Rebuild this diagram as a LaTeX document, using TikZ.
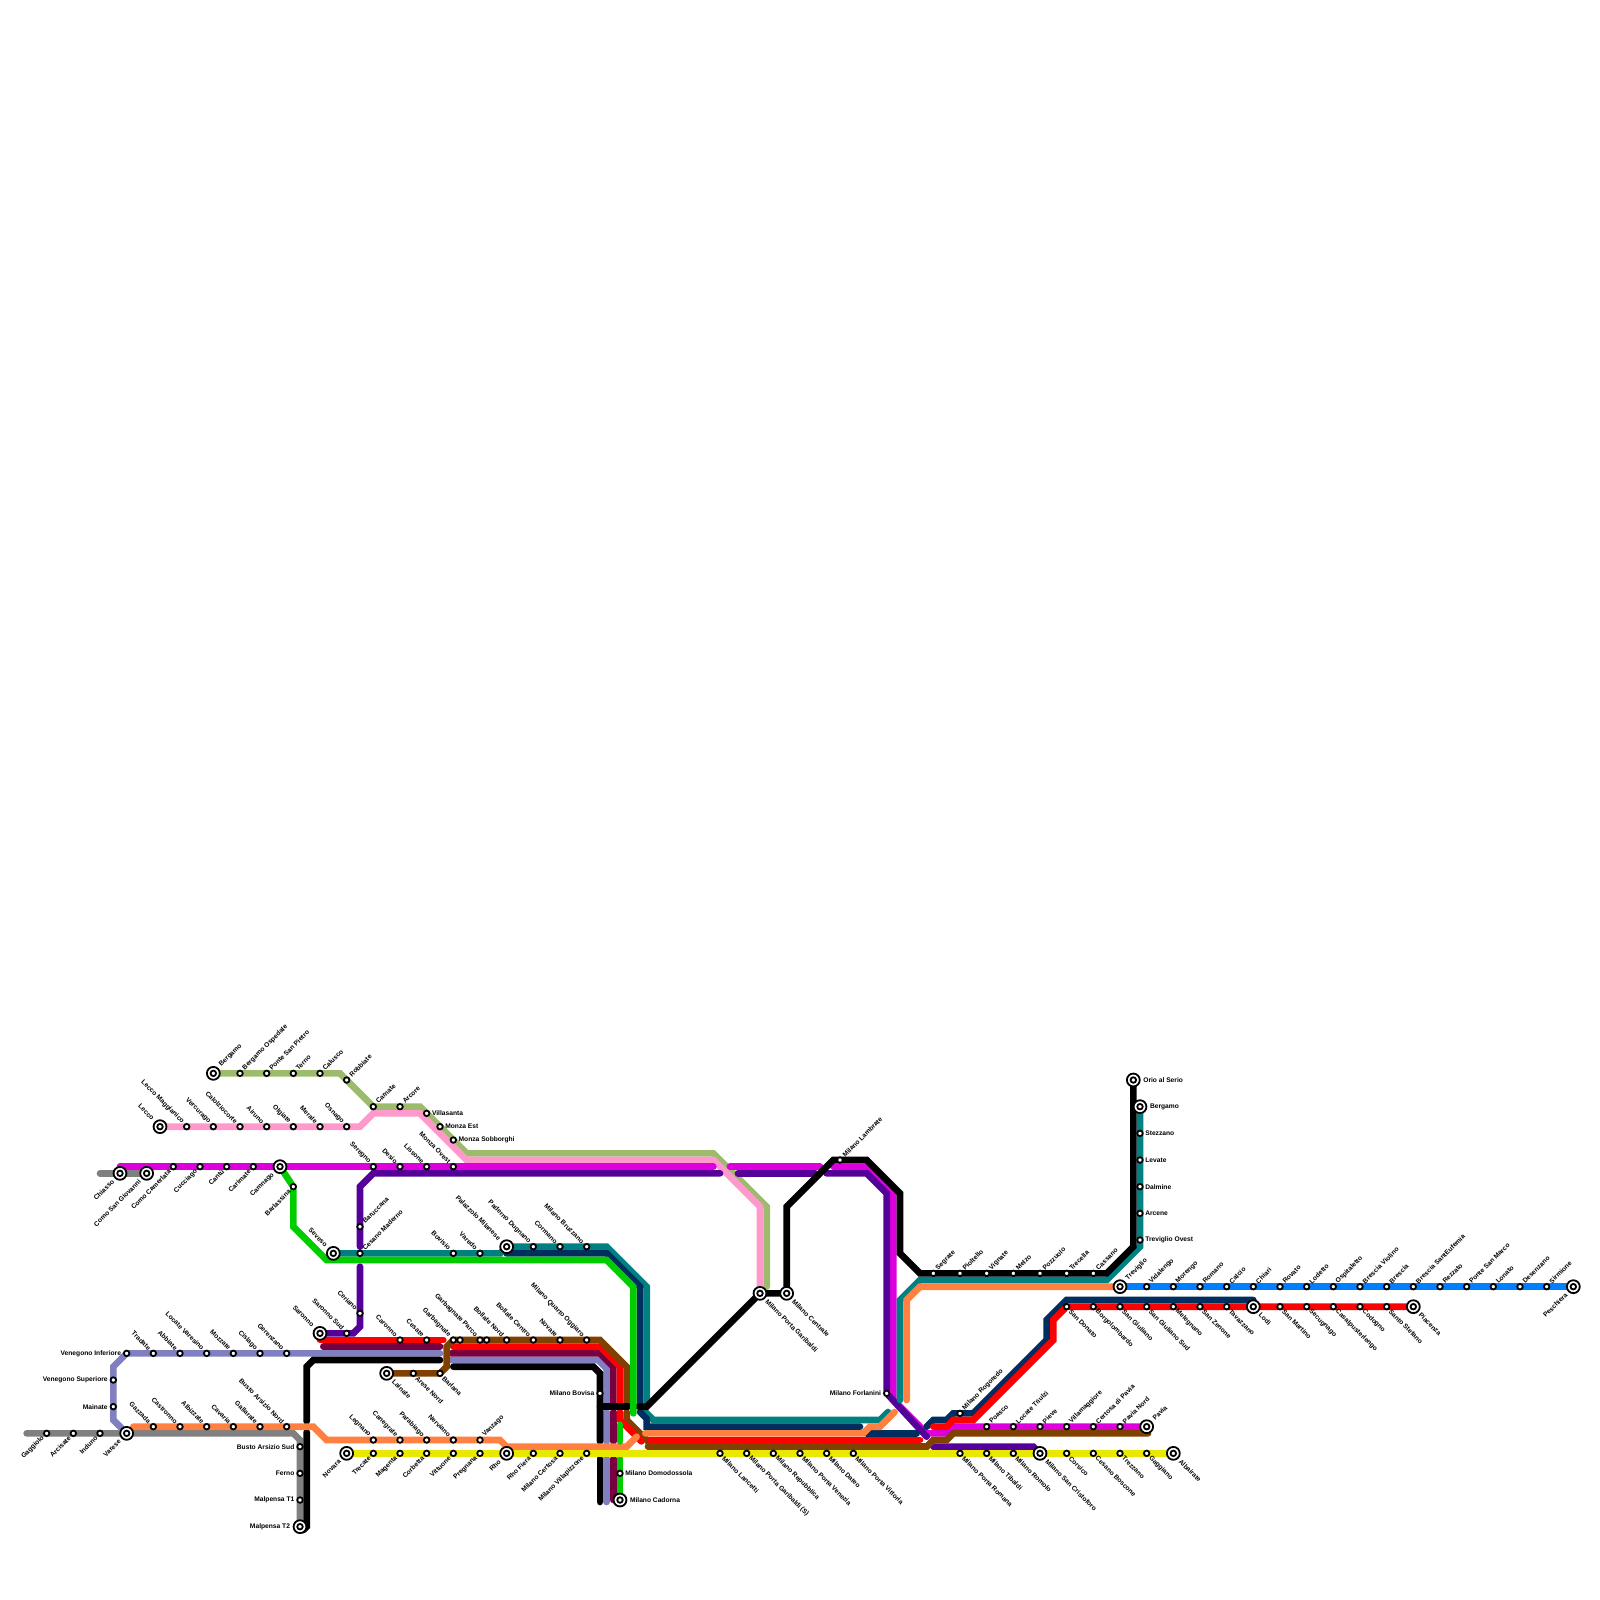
\documentclass[tikz,border=0pt]{standalone}
\usepackage{fontspec}
\setmainfont{Liberation Sans}
\usetikzlibrary{backgrounds}
\definecolor{cOlive}{HTML}{9CBB6C}
\definecolor{cPink}{HTML}{FF99CC}
\definecolor{cMag}{HTML}{DD00DD}
\definecolor{cInd}{HTML}{550099}
\definecolor{cTeal}{HTML}{008080}
\definecolor{cNavy}{HTML}{002F5F}
\definecolor{cGreen}{HTML}{00CC00}
\definecolor{cRed}{HTML}{FF0000}
\definecolor{cWine}{HTML}{770040}
\definecolor{cPeri}{HTML}{8080C0}
\definecolor{cGrey}{HTML}{808080}
\definecolor{cOrange}{HTML}{FF8040}
\definecolor{cYellow}{HTML}{E8E800}
\definecolor{cBlue}{HTML}{0080FF}
\definecolor{cBrown}{HTML}{804000}
\tikzset{
  stn/.style={circle,draw=black,fill=white,line width=.27mm,inner sep=0pt,outer sep=0pt,minimum size=.83mm},
  ring/.style={circle,draw=black,fill=white,line width=.27mm,inner sep=0pt,outer sep=0pt,minimum size=1.93mm},
  lab/.style={inner sep=0pt,outer sep=0pt,text=black,font=\fontsize{2.845}{3.4}\selectfont\bfseries},
  labNE/.style={lab,shift={(.55,-.65)},rotate=45,anchor=west},
  labNW/.style={lab,shift={(-.55,-.65)},rotate=-45,anchor=east},
  labSW/.style={lab,shift={(-.55,.6)},rotate=45,anchor=east},
  labSE/.style={lab,shift={(.5,.6)},rotate=-45,anchor=west},
  labE/.style={lab,shift={(.8,0)},anchor=west},
  labW/.style={lab,shift={(-.85,0)},anchor=east},
  labxNE/.style={lab,shift={(1.05,-1.15)},rotate=45,anchor=west},
  labxNW/.style={lab,shift={(-1.05,-1.15)},rotate=-45,anchor=east},
  labxSW/.style={lab,shift={(-1.05,1.1)},rotate=45,anchor=east},
  labxSE/.style={lab,shift={(1.0,1.1)},rotate=-45,anchor=west},
  labxE/.style={lab,shift={(1.5,0)},anchor=west},
  labxW/.style={lab,shift={(-1.5,0)},anchor=east},
  ln/.style={line width=1mm,line cap=round,miter limit=4}
}
\newcommand{\St}[4]{\node[stn] (#2) at (#3) {}; \node[lab#1] (#2-t) at (#2) {#4};}
\newcommand{\Ic}[4]{\node[ring] (#2) at (#3) {}; \node[stn] (#2-c) at (#2) {}; \node[labx#1] (#2-t) at (#2) {#4};}
\begin{document}
\begin{tikzpicture}[x=.1cm,y=-.1cm]
\useasboundingbox (0,0) rectangle (240,240);
% --- north-east olive
\Ic{NE}{bga}{32,161}{Bergamo}
\St{NE}{bgo}{36,161}{Bergamo Ospedale}
\St{NE}{psp}{40,161}{Ponte San Pietro}
\St{NE}{ter}{44,161}{Terno}
\St{NE}{cal}{48,161}{Calusco}
\St{NE}{rob}{52,162}{Robbiate}
\St{NE}{car}{56,166}{Carnate}
\St{NE}{arc}{60,166}{Arcore}
\St{E}{vil}{64,167}{Villasanta}
\St{E}{mze}{66,169}{Monza Est}
\St{E}{mzs}{68,171}{Monza Sobborghi}
% --- pink
\Ic{NW}{lec}{24,169}{Lecco}
\St{NW}{lma}{28,169}{Lecco Maggianico}
\St{NW}{ver}{32,169}{Vercurago}
\St{NW}{clz}{36,169}{Calolziocorte}
\St{NW}{air}{40,169}{Airuno}
\St{NW}{olg}{44,169}{Olgiate}
\St{NW}{mer}{48,169}{Merate}
\St{NW}{osn}{52,169}{Osnago}
% --- magenta
\Ic{SW}{chi}{18,176}{Chiasso}
\Ic{SW}{csg}{22,176}{Como San Giovanni}
\St{SW}{cca}{26,175}{Como Camerlata}
\St{SW}{cuc}{30,175}{Cucciago}
\St{SW}{can}{34,175}{Cantù}
\St{SW}{crm}{38,175}{Carimate}
\Ic{SW}{cmn}{42,175}{Camnago}
\St{NW}{seg}{56,175}{Seregno}
\St{NW}{des}{60,175}{Desio}
\St{NW}{lis}{64,175}{Lissone}
\St{NW}{mzo}{68,175}{Monza Ovest}
\St{SW}{bar}{44,178}{Barlassina}
% --- teal north
\Ic{NW}{sev}{50,188}{Seveso}
\St{NE}{brc}{54,184}{Baruccana}
\St{NE}{ces}{54,188}{Cesano Maderno}
\St{NW}{bov}{68,188}{Bovisio}
\St{NW}{vrd}{72,188}{Varedo}
\Ic{NW}{pal}{76,187}{Palazzolo Milanese}
\St{NW}{pad}{80,187}{Paderno Dugnano}
\St{NW}{crn}{84,187}{Cormano}
\St{NW}{bru}{88,187}{Milano Bruzzano}
% --- saronno trunk
\Ic{NW}{sar}{48,200}{Saronno}
\St{NW}{ssd}{52,200}{Saronno Sud}
\St{NW}{cer}{54,197}{Ceriano}
\St{NW}{cro}{60,201}{Caronno}
\St{NW}{cst}{64,201}{Cesate}
\St{NW}{gar}{68,201}{Garbagnate}
\node[stn] (gx1) at (69,201) {};
\St{NW}{gap}{72,201}{Garbagnate Parco}
\node[stn] (gx2) at (73,201) {};
\St{NW}{bon}{76,201}{Bollate Nord}
\St{NW}{boc}{80,201}{Bollate Centro}
\St{NW}{nov}{84,201}{Novate}
\St{NW}{mqo}{88,201}{Milano Quarto Oggiaro}
\Ic{SE}{lai}{58,206}{Lainate}
\St{SE}{are}{62,206}{Arese Nord}
\St{SE}{brl}{66,206}{Barlana}
% --- periwinkle
\St{W}{vin}{19,203}{Venegono Inferiore}
\St{W}{vsu}{17,207}{Venegono Superiore}
\St{W}{mai}{17,211}{Mainate}
\St{NW}{tra}{23,203}{Tradate}
\St{NW}{abb}{27,203}{Abbiate}
\St{NW}{lvr}{31,203}{Locate Varesino}
\St{NW}{moz}{35,203}{Mozzate}
\St{NW}{cis}{39,203}{Cislago}
\St{NW}{ger}{43,203}{Gerenzano}
% --- orange west
\St{NW}{gaz}{23,214}{Gazzada}
\St{NW}{cas}{27,214}{Castronno}
\St{NW}{alb}{31,214}{Albizzate}
\St{NW}{cav}{35,214}{Cavaria}
\St{NW}{gal}{39,214}{Gallarate}
\St{NW}{ban}{43,214}{Busto Arsizio Nord}
\St{NW}{leg}{56,216}{Legnano}
\St{NW}{cng}{60,216}{Canegrate}
\St{NW}{par}{64,216}{Parabiago}
\St{NW}{ner}{68,216}{Nerviano}
\St{NE}{van}{72,216}{Vanzago}
% --- grey
\St{SW}{gag}{7,215}{Gaggiolo}
\St{SW}{ars}{11,215}{Arcisate}
\St{SW}{ind}{15,215}{Induno}
\Ic{SW}{vae}{19,215}{Varese}
\St{W}{bas}{45,217}{Busto Arsizio Sud}
\St{W}{fer}{45,221}{Ferno}
\St{W}{mt1}{45,225}{Malpensa T1}
\Ic{W}{mt2}{45,229}{Malpensa T2}
% --- yellow
\Ic{SW}{nva}{52,218}{Novara}
\St{SW}{tre}{56,218}{Trecate}
\St{SW}{mag}{60,218}{Magenta}
\St{SW}{cor}{64,218}{Corbetta}
\St{SW}{vit}{68,218}{Vittuone}
\St{SW}{pre}{72,218}{Pregnana}
\Ic{SW}{rho}{76,218}{Rho}
\St{SW}{rhf}{80,218}{Rho Fiera}
\St{SW}{cto}{84,218}{Milano Certosa}
\St{SW}{vpz}{88,218}{Milano Villapizzone}
\St{SE}{lan}{108,218}{Milano Lancetti}
\St{SE}{pgs}{112,218}{Milano Porta Garibaldi (S)}
\St{SE}{rep}{116,218}{Milano Repubblica}
\St{SE}{pve}{120,218}{Milano Porta Venezia}
\St{SE}{dat}{124,218}{Milano Dateo}
\St{SE}{pvi}{128,218}{Milano Porta Vittoria}
\St{SE}{pro}{144,218}{Milano Porta Romana}
\St{SE}{tib}{148,218}{Milano Tibaldi}
\St{SE}{rom}{152,218}{Milano Romolo}
\Ic{SE}{scr}{156,218}{Milano San Cristoforo}
\St{SE}{crs}{160,218}{Corsico}
\St{SE}{cbo}{164,218}{Cesano Boscone}
\St{SE}{trz}{168,218}{Trezzano}
\St{SE}{gnn}{172,218}{Gaggiano}
\Ic{SE}{alr}{176,218}{Albairate}
% --- central Milan
\St{W}{bvs}{90,209}{Milano Bovisa}
\St{E}{dom}{93,221}{Milano Domodossola}
\Ic{E}{cad}{93,225}{Milano Cadorna}
\Ic{SE}{pgb}{114,194}{Milano Porta Garibaldi}
\Ic{SE}{cen}{118,194}{Milano Centrale}
\St{NE}{lam}{126,174}{Milano Lambrate}
\St{W}{frl}{133,209}{Milano Forlanini}
\St{NE}{rog}{144,212}{Milano Rogoredo}
% --- pavia
\St{NE}{poa}{148,214}{Poasco}
\St{NE}{ltr}{152,214}{Locate Triulzi}
\St{NE}{pie}{156,214}{Pieve}
\St{NE}{vmg}{160,214}{Villamaggiore}
\St{NE}{cpv}{164,214}{Certosa di Pavia}
\St{NE}{pvn}{168,214}{Pavia Nord}
\Ic{NE}{pav}{172,214}{Pavia}
% --- east
\St{NE}{sgr}{140,191}{Segrate}
\St{NE}{pio}{144,191}{Pioltello}
\St{NE}{vig}{148,191}{Vignate}
\St{NE}{mel}{152,191}{Melzo}
\St{NE}{poz}{156,191}{Pozzuolo}
\St{NE}{trc}{160,191}{Trecella}
\St{NE}{csn}{164,191}{Cassano}
\Ic{NE}{trv}{168,193}{Treviglio}
\Ic{E}{ori}{170,162}{Orio al Serio}
\Ic{E}{bge}{171,166}{Bergamo}
\St{E}{stz}{171,170}{Stezzano}
\St{E}{lev}{171,174}{Levate}
\St{E}{dal}{171,178}{Dalmine}
\St{E}{arn}{171,182}{Arcene}
\St{E}{tro}{171,186}{Treviglio Ovest}
% --- blue
\St{NE}{vid}{172,193}{Vidalengo}
\St{NE}{mor}{176,193}{Morengo}
\St{NE}{rmn}{180,193}{Romano}
\St{NE}{clc}{184,193}{Calcio}
\St{NE}{chr}{188,193}{Chiari}
\St{NE}{rov}{192,193}{Rovato}
\St{NE}{lod}{196,193}{Lodetto}
\St{NE}{osp}{200,193}{Ospitaletto}
\St{NE}{bvi}{204,193}{Brescia Violino}
\St{NE}{bre}{208,193}{Brescia}
\St{NE}{bse}{212,193}{Brescia SantEufemia}
\St{NE}{rez}{216,193}{Rezzato}
\St{NE}{psm}{220,193}{Ponte San Marco}
\St{NE}{lon}{224,193}{Lonato}
\St{NE}{dsz}{228,193}{Desenzano}
\St{NE}{sir}{232,193}{Sirmione}
\Ic{SW}{pes}{236,193}{Peschiera}
% --- red south-east
\St{SE}{sdo}{160,196}{San Donato}
\St{SE}{bgl}{164,196}{Borgolombardo}
\St{SE}{sgi}{168,196}{San Giuliano}
\St{SE}{sgs}{172,196}{San Giuliano Sud}
\St{SE}{mlg}{176,196}{Melegnano}
\St{SE}{sze}{180,196}{San Zenone}
\St{SE}{tav}{184,196}{Tavazzano}
\Ic{SE}{ldi}{188,196}{Lodi}
\St{SE}{smr}{192,196}{San Martino}
\St{SE}{sec}{196,196}{Secugnago}
\St{SE}{cpl}{200,196}{Casalpusterlengo}
\St{SE}{cod}{204,196}{Codogno}
\St{SE}{sst}{208,196}{Santo Stefano}
\Ic{SE}{pia}{212,196}{Piacenza}
% --- free line ends
\foreach \n/\p in {%
 olE/{115,193},mgA/{107,175},mgB/{109.5,175},mgC/{123,175},mgD/{125,175},%
 inA/{54,187},inB/{108,176},inC/{110.7,176},inD/{122.3,176},inE/{124,176},inF/{139,215.5},inG/{140,217},inH/{54,190},%
 teA/{97,210.5},teB/{96.8,211.8},teC/{133.2,211.8},teD/{135,210},%
 naA/{96,210.5},naB/{96,211.8},naC/{129,214},naD/{130,215},naE/{137.5,215},naF/{139,214},naG/{188,195},%
 reA/{140,214},reB/{97.5,216},reC/{138,216},reD/{48,201},reE/{66.5,201},reF/{68,202},reG/{93,210.5},reH/{93,211.8},reI/{96.2,216.2},%
 wiA/{48.5,202},wiB/{66,202},wiC/{67.7,203},wiD/{92,210.5},wiE/{92,211.8},wiF/{92,216.2},wiG/{92,218.8},wiH/{92,225},%
 peA/{66,203},peB/{67.7,204},peC/{91,210.5},peD/{91,211.8},peE/{91,216.2},peF/{91,218.8},peG/{91,225.3},%
 blA/{46,213.2},blB/{66,204},blC/{68,205},blD/{90,216.2},blE/{90,218.8},blF/{90,225.3},blG/{90,211},blH/{94.2,211},blI/{95.8,211},blJ/{46,214.8},blK/{45.5,229.5},%
 grA/{4,215},grB/{15,176},orA/{20,214},orB/{95.5,215.5},orC/{96.8,215},orD/{134.2,211.8},orE/{136,210},%
 brA/{94,210.5},brB/{94,211.8},brC/{172.2,215},brD/{97.2,217},gnA/{95,212},gnB/{93,213.7},gnC/{93,216.2},gnD/{93,218.8}%
}{\coordinate (\n) at (\p);}
\begin{scope}[on background layer]
\draw[ln,cOlive] (bga) -- (51,161) -- (56,166) -- (63,166) -- (70,173) -- (107,173) -- (115,181) -- (olE);
\draw[ln,cPink] (lec) -- (54,169) -- (56,167) -- (63,167) -- (70,174) -- (107,174) -- (114,181) -- (pgb);
\draw[ln,cGrey] (grB) -- (csg);
\draw[ln,cGrey] (grA) -- (44,215) -- (45,216) -- (mt2);
\draw[ln,cMag] (chi.center) ++(0,-1) -- (mgA);
\draw[ln,cMag] (mgB) -- (mgC);
\draw[ln,cMag] (mgD) -- (130,175) -- (134,179) -- (134,210) -- (139,215) -- (142,215) -- (143,214) -- (pav);
\draw[ln,cInd] (inA) -- (54,178) -- (56,176) -- (inB);
\draw[ln,cInd] (inC) -- (inD);
\draw[ln,cInd] (inE) -- (130,176) -- (133,179) -- (frl) -- (inF);
\draw[ln,cInd] (inG) -- (155,217) -- (scr);
\draw[ln,cInd] (sar) -- (53,200) -- (54,199) -- (inH);
\draw[ln,cTeal] (sev) -- (75,188) -- (76,187) -- (91,187) -- (97,193) -- (teA);
\draw[ln,cNavy] (pal) ++(0,1) -- (91,188) -- (96,193) -- (naA);
\draw[ln,cTeal] (teB) -- (98,213) -- (132,213) -- (teC);
\draw[ln,cTeal] (bge) -- (171,187) -- (166,192) -- (138,192) -- (135,195) -- (teD);
\draw[ln,cOrange] (orE) -- (136,195) -- (138,193) -- (trv);
\draw[ln,cNavy] (naB) -- (97,212.8) -- (97,214) -- (naC);
\draw[ln,cNavy] (naD) -- (naE);
\draw[ln,cNavy] (naF) -- (140,213) -- (142,213) -- (143,212) -- (146,212) -- (157,201) -- (157,198) -- (160,195) -- (naG);
\draw[ln,cRed] (pia) -- (sdo) -- (158,198) -- (158,201) -- (146,213) -- (143,213) -- (142,214) -- (reA);
\draw[ln,cPeri] (vae) -- (17,213) -- (17,205) -- (19,203) -- (peA);
\draw[ln,cRed] (reD) -- (reE);
\draw[ln,cWine] (wiA) -- (wiB);
\draw[ln,black] (blA) -- (46,205) -- (47,204) -- (blB);
\draw[ln,black] (blJ) -- (46,229) -- (blK);
\draw[ln,cBrown] (brB) -- (94,213) -- (98,217) -- (139,217) -- (140,216) -- (142,216) -- (143,215) -- (brC);
\draw[ln,cBrown] (brD) -- (139,217);
\draw[ln,cPeri] (peB) -- (89.7,204) -- (91,205.3) -- (peC);
\draw[ln,cPeri] (peD) -- (peE);
\draw[ln,cPeri] (peF) -- (peG);
\draw[ln,cWine] (wiC) -- (90,203) -- (92,205) -- (wiD);
\draw[ln,cWine] (wiE) -- (wiF);
\draw[ln,cWine] (wiG) -- (wiH);
\draw[ln,cRed] (reF) -- (90,202) -- (93,205) -- (reG);
\draw[ln,cRed] (reH) -- (93,213) -- (reI);
\draw[ln,cRed] (reB) -- (reC);
\draw[ln,black] (blC) -- (89,205) -- (90,206) -- (blD);
\draw[ln,black] (blE) -- (blF);
\draw[ln,cBrown] (lai) -- (66,206) -- (67,205) -- (67,202) -- (68,201) -- (90,201) -- (94,205) -- (brA);
\draw[ln,black] (blG) -- (blH);
\draw[ln,black] (blI) -- (97,211) -- (pgb) -- (cen) -- (118,181) -- (125,174) -- (130,174) -- (135,179) -- (135,188) -- (138,191) -- (166,191) -- (170,187) -- (ori);
\draw[ln,cOrange] (orA) -- (47,214) -- (49,216) -- (75,216) -- (76,217) -- (94,217) -- (orB);
\draw[ln,cOrange] (orC) -- (129.5,215) -- (130.5,214) -- (132,214) -- (orD);
\draw[ln,cGreen] (cmn) -- (bar) -- (44,184) -- (49,189) -- (91,189) -- (95,193) -- (gnA);
\draw[ln,cGreen] (gnB) -- (gnC);
\draw[ln,cGreen] (gnD) -- (cad);
\draw[ln,cYellow] (nva) -- (alr);
\draw[ln,cBlue] (trv) -- (pes);
\end{scope}
\end{tikzpicture}
\end{document}
